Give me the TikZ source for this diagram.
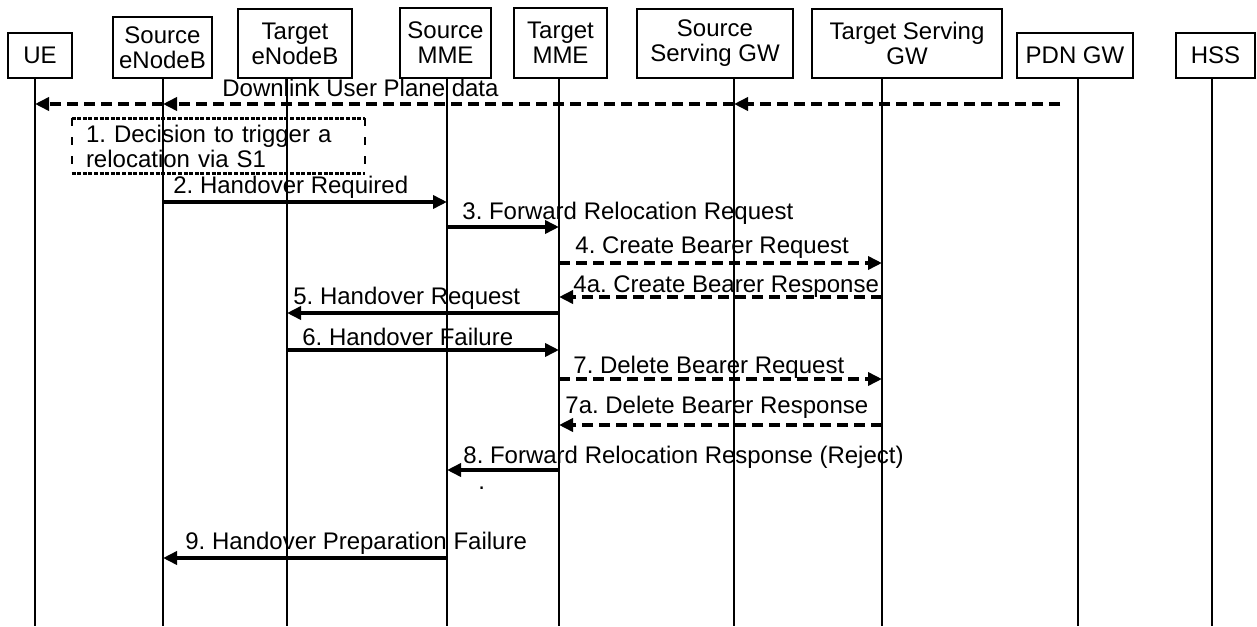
\documentclass[tikz,border=0pt]{standalone}
\usepackage{fontspec}
\setmainfont{Liberation Sans}
\usetikzlibrary{arrows.meta}

\begin{document}
\frenchspacing
\begin{tikzpicture}[
  x=0.5pt, y=-0.5pt,
  font=\fontsize{12}{12.5}\selectfont,
  ent/.style={draw,line width=0.9pt,align=center,inner sep=2pt},
  life/.style={line width=0.7pt},
  msg/.style={line width=1.8pt,-{Triangle[length=7pt,width=6.5pt]}},
  dmsg/.style={msg,dash pattern=on 5.5pt off 3pt},
  lbl/.style={anchor=base west,inner sep=0pt},
]
\useasboundingbox (0,0) rectangle (1257,626);

% entities
\node[ent,minimum width=32pt,minimum height=22.5pt] (ue) at (40,55.5) {UE};
\node[ent,minimum width=49.5pt,minimum height=30.5pt] (senb) at (162.5,47.5) {Source\\eNodeB};
\node[ent,minimum width=57pt,minimum height=34.5pt] (tenb) at (295,43.5) {Target\\eNodeB};
\node[ent,minimum width=45.5pt,minimum height=35pt] (smme) at (445.5,43) {Source\\MME};
\node[ent,minimum width=46.5pt,minimum height=35pt] (tmme) at (560.5,43) {Target\\MME};
\node[ent,minimum width=78pt,minimum height=34.5pt] (ssgw) at (715,43.5) {Source\\Serving GW};
\node[ent,minimum width=95pt,minimum height=34.5pt] (tsgw) at (907,43.5) {Target Serving\\GW};
\node[ent,minimum width=58pt,minimum height=22.5pt] (pdn) at (1075,55.5) {PDN GW};
\node[ent,minimum width=39.5pt,minimum height=22.5pt] (hss) at (1215.5,55.5) {HSS};

% lifelines
\foreach \n/\x in {ue/35,senb/163,tenb/287,smme/447,tmme/559,ssgw/734,tsgw/882,pdn/1078,hss/1212} {
  \coordinate (\n-l) at (\x,78);
  \coordinate (\n-b) at (\x,626);
  \draw[life] (\n-l) -- (\n-b);
}

% downlink data
\coordinate (dl) at (1060,104);
\node[lbl] (dltxt) at (222,97) {Downlink User Plane data};
\draw[dmsg] (dl) -- (ssgw-l |- dl);
\draw[dmsg] (ssgw-l |- dl) -- (senb-l |- dl);
\draw[dmsg] (senb-l |- dl) -- (ue-l |- dl);

% step 1
\node[minimum width=146.5pt,minimum height=27.5pt,text width=132.5pt,inner xsep=7pt,inner ysep=0pt,align=left] (dec) at (218.5,146) {1. Decision to trigger a\\relocation via S1};
\draw[line width=1.5pt,dash pattern=on 2pt off 0.8pt] (dec.north west) -- (dec.north east) (dec.south west) -- (dec.south east);
\draw[line width=1pt,dash pattern=on 4pt off 5.5pt] (dec.north west) -- (dec.south west) (dec.north east) -- (dec.south east);

% messages
\node[lbl] (t2) at (173,193) {2. Handover Required};
\draw[msg] (senb-l |- 0,202) -- (smme-l |- 0,202);
\node[lbl] (t3) at (462,219) {3. Forward Relocation Request};
\draw[msg] (smme-l |- 0,227) -- (tmme-l |- 0,227);
\node[lbl] (t4) at (575,253) {4. Create Bearer Request};
\draw[dmsg] (tmme-l |- 0,263) -- (tsgw-l |- 0,263);
\node[lbl] (t4a) at (573,292) {4a. Create Bearer Response};
\draw[dmsg] (tsgw-l |- 0,297) -- (tmme-l |- 0,297);
\node[lbl] (t5) at (293,304) {5. Handover Request};
\draw[msg] (tmme-l |- 0,313) -- (tenb-l |- 0,313);
\node[lbl] (t6) at (302,345) {6. Handover Failure};
\draw[msg] (tenb-l |- 0,350) -- (tmme-l |- 0,350);
\node[lbl] (t7) at (573,373) {7. Delete Bearer Request};
\draw[dmsg] (tmme-l |- 0,379) -- (tsgw-l |- 0,379);
\node[lbl] (t7a) at (565,413) {7a. Delete Bearer Response};
\draw[dmsg] (tsgw-l |- 0,425) -- (tmme-l |- 0,425);
\node[lbl] (t8) at (463,463) {8. Forward Relocation Response (Reject)};
\node[lbl] (t8dot) at (478,489) {.};
\draw[msg] (tmme-l |- 0,470) -- (smme-l |- 0,470);
\node[lbl] (t9) at (185,549) {9. Handover Preparation Failure};
\draw[msg] (smme-l |- 0,558) -- (senb-l |- 0,558);
\end{tikzpicture}
\end{document}
